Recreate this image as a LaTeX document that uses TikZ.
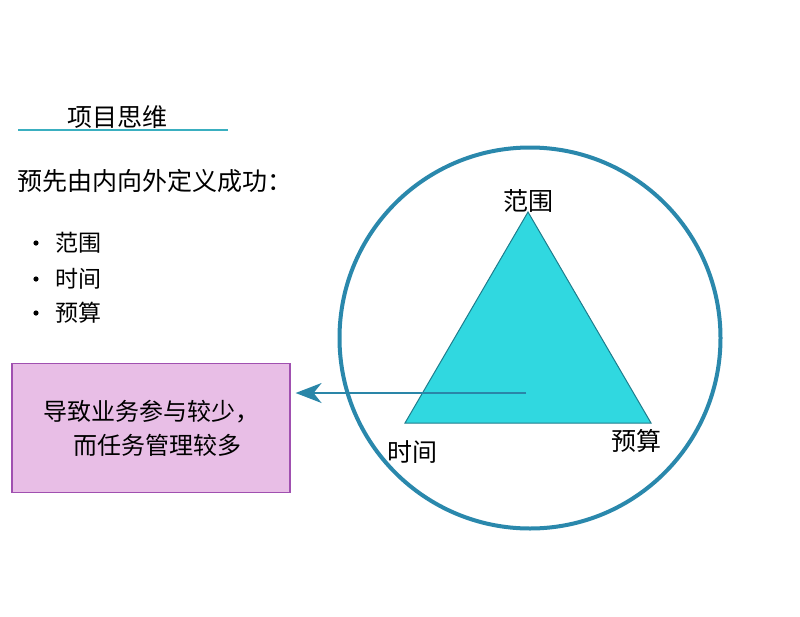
\documentclass[tikz,border=0pt]{standalone}
\usepackage{fontspec}
\setmainfont{Noto Sans CJK SC}
\usetikzlibrary{arrows.meta}
\definecolor{ringc}{HTML}{2A88AC}
\definecolor{trifill}{HTML}{30D8E0}
\definecolor{triedge}{HTML}{1E7C8C}
\definecolor{boxfill}{HTML}{E8BEE6}
\definecolor{boxedge}{HTML}{A050B0}
\definecolor{linec}{HTML}{3AAFC0}
\definecolor{arrowc}{HTML}{2A86A8}
\begin{document}
\begin{tikzpicture}[x=1pt,y=-1pt,
  txt/.style={inner sep=0pt,anchor=west,font=\fontsize{23}{27}\selectfont},
  lbl/.style={inner sep=0pt,font=\fontsize{25}{29}\selectfont},
  msgbox/.style={draw=boxedge,fill=boxfill,line width=1.2pt,minimum width=278pt,minimum height=129pt,inner sep=0pt,align=center,font=\fontsize{24}{34}\selectfont}]
\useasboundingbox (0,0) rectangle (800,616);
% title
\node[txt,font=\fontsize{25}{29}\selectfont] (title) at (67,117) {项目思维};
\draw[linec,line width=1.6pt] (18,130) -- (228,130);
\node[txt,font=\fontsize{25}{29}\selectfont] (intro) at (17,181) {预先由内向外定义成功：};
% bullets
\node[txt] (b1) at (55,243) {范围};
\node[txt] (b2) at (55,279) {时间};
\node[txt] (b3) at (55,313) {预算};
\foreach \y in {243,279,313}{\fill (36,\y) circle (2.6pt);}
% box
\node[msgbox] (box) at (151,428) {导致业务参与较少，\\\hspace*{12pt}而任务管理较多};
% circle
\node[draw=ringc,line width=4pt,circle,minimum size=381pt,inner sep=0pt] (ring) at (530,338) {};
% triangle
\coordinate (top) at (528,212);
\coordinate (bl) at (405,423);
\coordinate (br) at (651,423);
\fill[trifill] (top) -- (bl) -- (br) -- cycle;
\draw[triedge,line width=1pt,line join=miter] (top) -- (bl) -- (br) -- cycle;
% labels
\node[lbl] (lt) at (528,201) {范围};
\node[lbl] (ll) at (412,452) {时间};
\node[lbl] (lr) at (636,441) {预算};
% arrow
\coordinate (astart) at (526,393);
\draw[arrowc,line width=2pt,-{Stealth[length=26pt,width=20pt,inset=8pt]}] (astart) -- ([xshift=5pt]box.east |- astart);
\end{tikzpicture}
\end{document}
